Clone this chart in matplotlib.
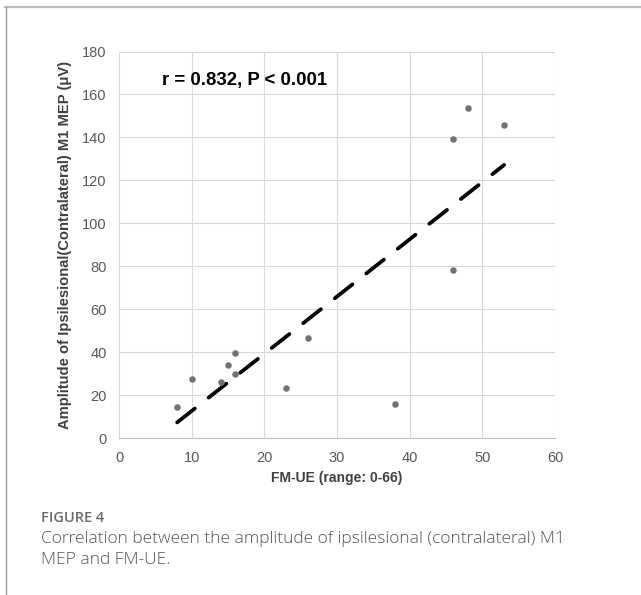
import numpy as np
import matplotlib
matplotlib.use("Agg")
import matplotlib.pyplot as plt
from matplotlib.lines import Line2D

# data
fm_ue = [8, 10, 14, 15, 16, 16, 23, 26, 38, 46, 46, 48, 53]
mep_amp = [14.3, 27.6, 26.1, 34.0, 39.4, 29.8, 23.1, 46.4, 15.8, 139.2, 78.4, 153.8, 145.9]
x_ticks = [0, 10, 20, 30, 40, 50, 60]
y_ticks = [0, 20, 40, 60, 80, 100, 120, 140, 160, 180]
stat_text = "r = 0.832, P < 0.001"
x_label = "FM-UE (range: 0-66)"
y_label = "Amplitude of Ipsilesional(Contralateral) M1 MEP (\u03bcV)"
fig_title = "FIGURE 4"
caption = ("Correlation between the amplitude of ipsilesional (contralateral) M1\n"
           "MEP and FM-UE.")

plt.rcParams['font.family'] = ['Liberation Sans', 'DejaVu Sans']

fig = plt.figure(figsize=(6.41, 5.95), dpi=100)
ax = fig.add_axes([119/641, 1 - 438/595, (555-119)/641, (438-51.5)/595])

ax.scatter(fm_ue, mep_amp, s=22, color='#767171', zorder=3, linewidths=0)

# linear trend line over data range
k, b = np.polyfit(fm_ue, mep_amp, 1)
xs = np.array([min(fm_ue), max(fm_ue)])
ax.plot(xs, k*xs + b, color='black', lw=2.7, dashes=(6.0, 4.7),
        dash_capstyle='round', solid_capstyle='round', zorder=2)

ax.set_xlim(0, 60)
ax.set_ylim(0, 180)
ax.set_xticks(x_ticks)
ax.set_yticks(y_ticks)
ax.grid(True, color='#d9d9d9', lw=0.8)
ax.set_axisbelow(True)
for s in ['top', 'right', 'left']:
    ax.spines[s].set_visible(False)
ax.spines['bottom'].set_color('#bfbfbf')
ax.spines['bottom'].set_linewidth(0.8)
ax.tick_params(length=0, labelsize=10.5, labelcolor='#595959', pad=9)

ax.set_xlabel(x_label, fontsize=10, fontweight='bold', color='#404040', labelpad=5)
ax.set_ylabel(y_label, fontsize=10.6, fontweight='bold', color='#404040', labelpad=7)

ax.text(0.098, 0.926, stat_text, transform=ax.transAxes, fontsize=13.4,
        fontweight='bold', color='black', va='center', ha='left')

# page frame
fig.add_artist(Line2D([5/641, 1], [1 - 7/595, 1 - 7/595], color='#bdbdbd', lw=1.6))
fig.add_artist(Line2D([6/641, 6/641], [0, 1 - 7/595], color='#9a9a9a', lw=1.0))

fig.text(41/641, 1 - 518/595, fig_title, fontsize=10.5, color='#6b6b6b',
         family=['Open Sans', 'DejaVu Sans'], fontweight='semibold', va='center')
fig.text(41/641, 1 - 531/595, caption, fontsize=12.5, color='#555555',
         family=['Open Sans', 'DejaVu Sans'], fontweight='light', va='top',
         linespacing=1.45)

fig.savefig("out.png", dpi=100)
